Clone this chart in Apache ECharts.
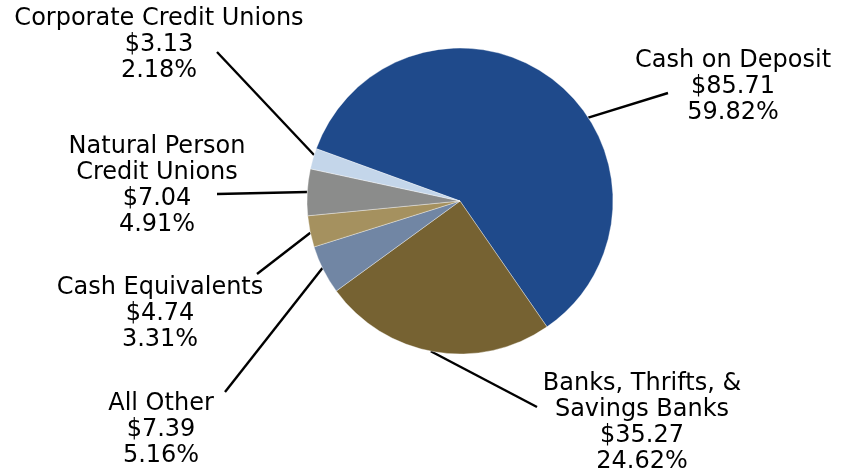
<!DOCTYPE html>
<html><head><meta charset="utf-8">
<script src="https://cdn.jsdelivr.net/npm/echarts@6/dist/echarts.min.js"></script>
<style>html,body{margin:0;padding:0;background:#fff}#c{width:850px;height:476px}</style>
</head><body><div id="c"></div>
<script>
const categories = ['Cash on Deposit', 'Banks, Thrifts, &\nSavings Banks', 'All Other', 'Cash Equivalents', 'Natural Person\nCredit Unions', 'Corporate Credit Unions'];
const amounts = [85.71, 35.27, 7.39, 4.74, 7.04, 3.13];
const percents = [59.82, 24.62, 5.16, 3.31, 4.91, 2.18];
const colors = ['#1f4a8b', '#766232', '#7186a4', '#a5915f', '#8b8c8b', '#c4d6ea'];

// label styling / placement (layout only)
const CX = 460, CY = 201, R = 153;
const labelPos = [[733, 87], [642, 423], [161, 430], [160, 314], [157, 186], [159, 45]];
const lineEnd = [[668, 93], [537, 407], [225, 392], [257, 274], [217, 194], [217, 52]];
const lineAngle = [33, -101, -154, -168, 176.6, 162.5];

const chart = echarts.init(document.getElementById('c'), null, {renderer: 'canvas'});
chart.setOption({
  animation: false,
  series: [{
    type: 'pie',
    center: [CX, CY],
    radius: R,
    startAngle: 160,
    clockwise: true,
    avoidLabelOverlap: false,
    itemStyle: {borderColor: 'rgba(255,255,255,0.6)', borderWidth: 0.6},
    label: {
      show: true,
      position: 'outside',
      fontFamily: 'DejaVu Sans',
      fontSize: 24,
      lineHeight: 26,
      color: '#000',
      align: 'center',
      formatter: p => p.name + '\n$' + amounts[p.dataIndex].toFixed(2) + '\n' + percents[p.dataIndex].toFixed(2) + '%'
    },
    labelLine: {show: true, length: 10, length2: 10, lineStyle: {color: '#000', width: 2.4}},
    emphasis: {disabled: true},
    labelLayout: function (params) {
      const i = params.dataIndex;
      const a = lineAngle[i] * Math.PI / 180;
      const sx = CX + R * Math.cos(a), sy = CY - R * Math.sin(a);
      return {
        x: labelPos[i][0], y: labelPos[i][1],
        align: 'center', verticalAlign: 'middle',
        labelLinePoints: [[sx, sy], lineEnd[i], lineEnd[i]]
      };
    },
    data: categories.map((n, i) => ({name: n, value: amounts[i], itemStyle: {color: colors[i]}}))
  }]
});
</script></body></html>
